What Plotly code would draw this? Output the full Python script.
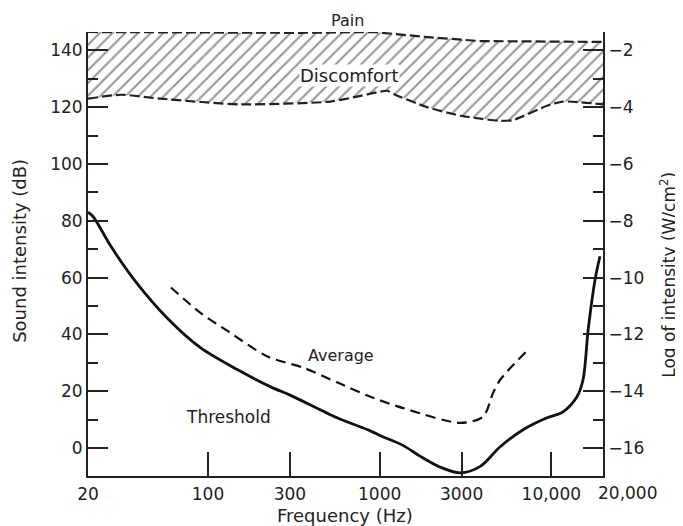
import math
import plotly.graph_objects as go

# ---- data ----
thr_freq = [20, 21.4, 27.2, 37, 58.4, 90.8, 149, 232, 303, 569, 883, 1010, 1374, 1727,
            2255, 2950, 3855, 5035, 6850, 9440, 11700, 14100, 15300, 16400, 18000, 19200]
thr_db = [83, 81.5, 71, 59.4, 45.5, 35.2, 27.5, 21.5, 18.5, 10.5, 6, 4.3, 0.8, -3,
          -6.8, -8.8, -6.5, 0.4, 6.4, 10.6, 12.7, 18, 24, 41.7, 59.4, 67.5]

avg_freq = [60.8, 90.8, 130, 222, 361, 569, 883, 1374, 2950, 4010, 4580, 5035, 7130]
avg_db = [56.5, 47.5, 41.2, 32.2, 28.2, 23, 18, 14, 8.8, 11, 19.4, 24, 33.9]

pain_freq = [20, 346, 921, 1895, 3855, 20000]
pain_db = [146.5, 146.2, 146.5, 144.7, 143.3, 143]

disc_freq = [20, 31.1, 53.1, 155, 518, 773, 1110, 1202, 1895, 2950, 3855, 5035, 5990,
             9440, 11700, 20000]
disc_db = [123, 124.4, 123, 121, 122, 124, 125.8, 124.7, 120, 117, 116, 115.2, 115.5,
           120.5, 122, 121]

x_tickvals = [20, 100, 300, 1000, 3000, 10000, 20000]
x_ticktext = ["20", "100", "300", "1000", "3000", "10,000", ""]
x_last_label = "20,000"

db_range = [-9.9, 146.5]
log_offset = -16  # log intensity = dB/10 - 16

FONT = "DejaVu Sans"
INK = "#222222"
TICK_SIZE = 17

fig = go.Figure()

# hatched discomfort band (closed polygon)
poly_x = disc_freq + pain_freq[::-1]
poly_y = disc_db + pain_db[::-1]
fig.add_trace(go.Scatter(
    x=poly_x, y=poly_y, mode="none", fill="toself", fillcolor="white",
    fillpattern=dict(shape="/", fgcolor="#2a2a2a", bgcolor="white", size=9, solidity=0.22),
    hoverinfo="skip", showlegend=False))

# boundaries
fig.add_trace(go.Scatter(x=pain_freq, y=pain_db, mode="lines",
                         line=dict(color=INK, width=2.2, dash="10px,4px"), showlegend=False))
fig.add_trace(go.Scatter(x=disc_freq, y=disc_db, mode="lines",
                         line=dict(color=INK, width=2.2, dash="10px,4px", shape="spline",
                                   smoothing=0.6), showlegend=False))

# threshold
fig.add_trace(go.Scatter(x=thr_freq, y=thr_db, mode="lines",
                         line=dict(color="#111111", width=2.8, shape="spline", smoothing=0.9),
                         showlegend=False))
# average
fig.add_trace(go.Scatter(x=avg_freq, y=avg_db, mode="lines",
                         line=dict(color="#111111", width=2.2, dash="10px,6px", shape="spline",
                                   smoothing=0.8),
                         showlegend=False))

# invisible trace on secondary axis so it renders
fig.add_trace(go.Scatter(x=[x_tickvals[0]], y=[log_offset], yaxis="y2", mode="markers",
                         marker=dict(opacity=0), hoverinfo="skip", showlegend=False))

# the page body adds an 8px offset, so the figure is 8px smaller on each side
fig.update_layout(
    width=675, height=518,
    margin=dict(l=80, r=80, t=24, b=50, autoexpand=False),
    paper_bgcolor="white", plot_bgcolor="white",
    font=dict(family=FONT, size=16, color=INK),
    xaxis=dict(type="log", range=[math.log10(20), math.log10(20000)],
               tickvals=x_tickvals, ticktext=x_ticktext, tickangle=0, automargin=False,
               ticks="inside", ticklen=24, tickwidth=1.5, tickcolor=INK,
               ticklabelstandoff=2,
               showline=True, linecolor=INK, linewidth=2, showgrid=False, zeroline=False,
               tickfont=dict(size=TICK_SIZE)),
    yaxis=dict(range=db_range, tick0=0, dtick=20, ticks="inside", ticklen=20, tickwidth=1.5,
               automargin=False,
               tickcolor=INK, minor=dict(ticks="inside", ticklen=10, dtick=10, tick0=0,
                                         tickcolor=INK, tickwidth=1.5),
               showline=True, linecolor=INK, linewidth=2, showgrid=False, zeroline=False,
               tickfont=dict(size=TICK_SIZE)),
    yaxis2=dict(range=[db_range[0] / 10 + log_offset, db_range[1] / 10 + log_offset],
                overlaying="y", side="right", tick0=-16, dtick=2, automargin=False,
                ticks="inside", ticklen=20, tickwidth=1.5, tickcolor=INK,
                minor=dict(ticks="inside", ticklen=10, dtick=1, tick0=0, tickcolor=INK,
                           tickwidth=1.5),
                showline=True, linecolor=INK, linewidth=2, showgrid=False, zeroline=False,
                tickfont=dict(size=TICK_SIZE)),
    showlegend=False,
)

fig.add_annotation(xref="paper", yref="paper", x=0.503, y=1.027, text="Pain",
                   xanchor="center", yanchor="middle", showarrow=False,
                   font=dict(family=FONT, size=16, color=INK))
fig.add_annotation(x=math.log10(667), y=131.3, text="Discomfort", showarrow=False,
                   font=dict(family=FONT, size=18, color=INK), bgcolor="white", borderpad=0)
fig.add_annotation(x=math.log10(592), y=32.7, text="Average", showarrow=False,
                   font=dict(family=FONT, size=16, color=INK))
fig.add_annotation(x=math.log10(132), y=10.9, text="Threshold", showarrow=False,
                   font=dict(family=FONT, size=17, color=INK))

# last x tick label, placed just right of the corner like the reference
fig.add_annotation(xref="paper", yref="paper", x=1, y=0, yanchor="top", xanchor="left",
                   xshift=-7, yshift=-5, text=x_last_label, showarrow=False,
                   font=dict(family=FONT, size=TICK_SIZE, color=INK))

fig.add_annotation(xref="paper", yref="paper", x=0.499, y=-0.088, text="Frequency (Hz)",
                   xanchor="center", yanchor="middle",
                   showarrow=False, font=dict(family=FONT, size=18, color=INK))
fig.add_annotation(xref="paper", yref="paper", x=-0.133, y=0.506, text="Sound intensity (dB)",
                   xanchor="center", yanchor="middle",
                   textangle=-90, showarrow=False, font=dict(family=FONT, size=18, color=INK))
fig.add_annotation(xref="paper", yref="paper", x=1.126, y=0.453,
                   text="Log of intensity (W/cm<sup>2</sup>)",
                   xanchor="center", yanchor="middle",
                   textangle=-90, showarrow=False, font=dict(family=FONT, size=17, color=INK))

fig.write_html("out.html")
